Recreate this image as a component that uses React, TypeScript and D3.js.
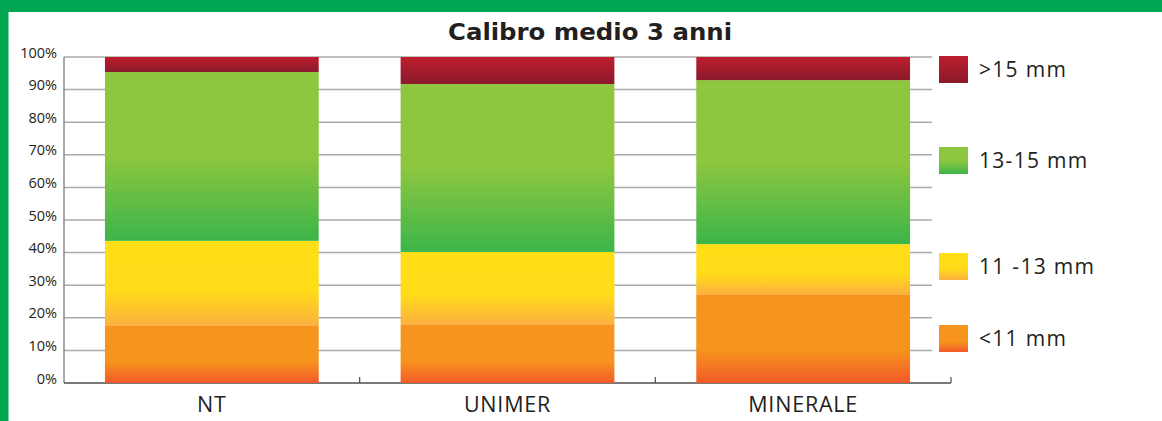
import * as d3 from 'd3';

// chart data (percent of each class)
const categories = ['NT', 'UNIMER', 'MINERALE'];
const seriesKeys = ['lt11', 'b11_13', 'b13_15', 'gt15'];
const seriesLabels = ['<11 mm', '11 -13 mm', '13-15 mm', '>15 mm'];
const lt11 = [17.5, 17.8, 27.0];
const b11_13 = [26.1, 22.4, 15.6];
const b13_15 = [51.8, 51.5, 50.3];
const gt15 = [4.6, 8.3, 7.1];
const yTicks = [0, 10, 20, 30, 40, 50, 60, 70, 80, 90, 100];

const W = 1162;
const H = 421;
const left = 64;
const right = 951;
const top = 57;
const bottom = 383;

const gradients = {
  lt11: [[0, '#f7941d'], [0.62, '#f7941d'], [1, '#f15a29']],
  b11_13: [[0, '#ffde17'], [0.58, '#ffdc18'], [1, '#fbb040']],
  b13_15: [[0, '#8dc63f'], [0.5, '#8dc63f'], [1, '#3cb54a']],
  gt15: [[0, '#be1e2d'], [1, '#8a1a2c']],
};

const font = "'Open Sans', 'Noto Sans', sans-serif";

const App = () => {
  const rows = categories.map((c, i) => ({
    cat: c,
    lt11: lt11[i],
    b11_13: b11_13[i],
    b13_15: b13_15[i],
    gt15: gt15[i],
  }));

  const stack = d3.stack().keys(seriesKeys);
  const layers = stack(rows);

  const x = d3.scaleBand()
    .domain(categories)
    .range([left, right])
    .paddingInner(0.277)
    .paddingOuter(0.1385);

  const y = d3.scaleLinear()
    .domain([0, 100])
    .range([bottom, top]);

  const step = x.step();

  // legend order top to bottom with fixed slot positions
  const legendY = d3.scaleOrdinal()
    .domain(['gt15', 'b13_15', 'b11_13', 'lt11'])
    .range([56, 147, 253, 325]);

  return (
    <div style={{ position: 'absolute', left: 0, top: 0 }}>
      <svg width={W} height={H} style={{ display: 'block', background: '#fff' }}>
        <defs>
          {seriesKeys.map((k) => (
            <linearGradient key={k} id={'g-' + k} x1="0" y1="0" x2="0" y2="1">
              {gradients[k].map(([o, c], j) => (
                <stop key={j} offset={o} stopColor={c} />
              ))}
            </linearGradient>
          ))}
        </defs>

        {/* green frame */}
        <rect x={0} y={0} width={W} height={12} fill="#00a651" />
        <rect x={0} y={0} width={8.5} height={H} fill="#00a651" />

        <text
          x={590}
          y={40}
          textAnchor="middle"
          fontFamily="'DejaVu Sans', Lato, sans-serif"
          fontWeight={900}
          fontSize={23}
          textLength={284}
          lengthAdjust="spacingAndGlyphs"
          fill="#231f20"
        >
          Calibro medio 3 anni
        </text>

        {/* grid */}
        {yTicks.map((t) => (
          <g key={t}>
            {t > 0 && (
              <line x1={left} x2={932} y1={y(t)} y2={y(t)} stroke="#ababab" strokeWidth={1.5} />
            )}
            <text
              x={57}
              y={y(t) + 0.5}
              textAnchor="end"
              fontFamily={font}
              fontSize={14.5}
              fill="#231f20"
            >
              {t + '%'}
            </text>
          </g>
        ))}

        {/* y axis */}
        <line x1={left} x2={left} y1={top} y2={bottom} stroke="#8c8c8c" strokeWidth={1.5} />

        {/* x axis */}
        <line x1={left} x2={right} y1={bottom} y2={bottom} stroke="#4d4d4d" strokeWidth={1.5} />
        {categories.map((c, i) => (
          <line
            key={c}
            x1={left + step * (i + 1)}
            x2={left + step * (i + 1)}
            y1={bottom}
            y2={bottom - 6}
            stroke="#4d4d4d"
            strokeWidth={1.2}
          />
        ))}

        {/* bars */}
        {layers.map((layer) => (
          <g key={layer.key} fill={`url(#g-${layer.key})`}>
            {layer.map((d) => (
              <rect
                key={d.data.cat}
                x={x(d.data.cat)}
                width={x.bandwidth()}
                y={y(d[1])}
                height={y(d[0]) - y(d[1])}
              />
            ))}
          </g>
        ))}

        {/* category labels */}
        {categories.map((c) => (
          <text
            key={c}
            x={x(c) + x.bandwidth() / 2}
            y={412}
            textAnchor="middle"
            fontFamily={font}
            fontSize={21.5}
            letterSpacing={0.8}
            fill="#231f20"
          >
            {c}
          </text>
        ))}

        {/* legend */}
        {seriesKeys.map((k, i) => (
          <g key={k} transform={`translate(939,${legendY(k)})`}>
            <rect width={29} height={27} fill={`url(#g-${k})`} />
            <text
              x={40}
              y={21}
              fontFamily={font}
              fontSize={21}
              letterSpacing={1.3}
              fill="#231f20"
            >
              {seriesLabels[i]}
            </text>
          </g>
        ))}
      </svg>
    </div>
  );
};

export default App;
